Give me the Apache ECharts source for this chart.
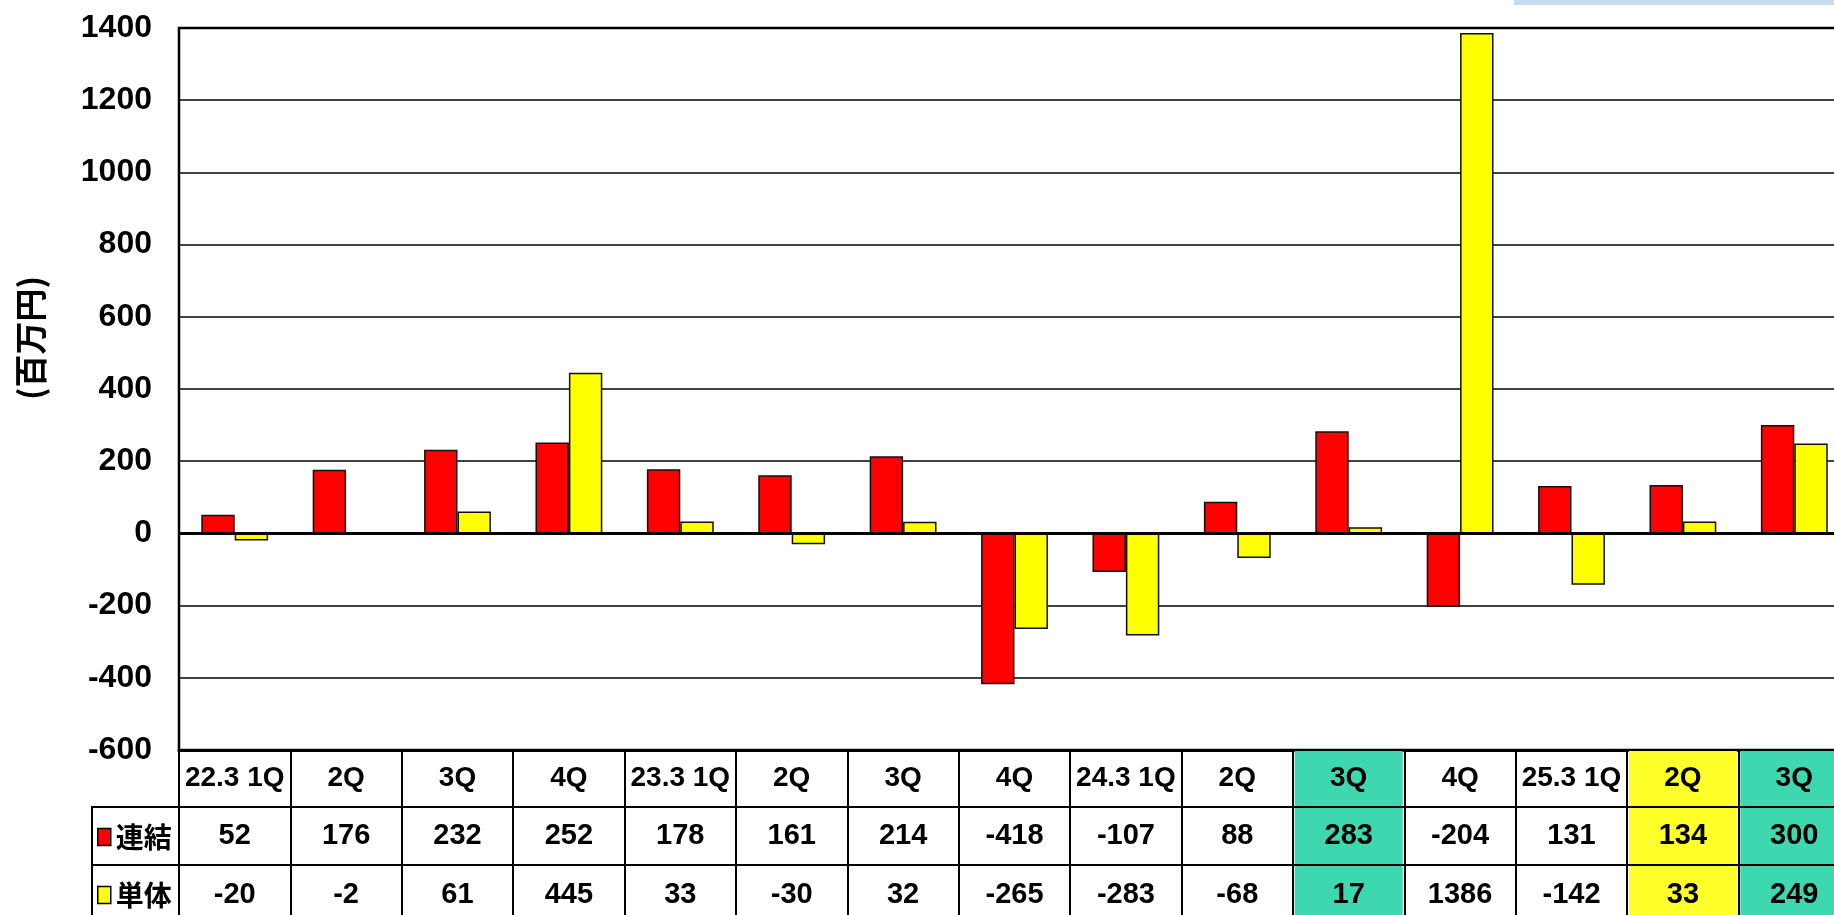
<!DOCTYPE html>
<html>
<head>
<meta charset="utf-8">
<script src="https://cdn.jsdelivr.net/npm/echarts@6/dist/echarts.min.js"></script>
<style>
  html, body { margin: 0; padding: 0; overflow: hidden; background: #fff; }
  #main { width: 1900px; height: 915px; }
</style>
</head>
<body>
<div id="main"></div>
<script>
  // 四半期ごとの値（百万円）
  const categories = ['22.3 1Q', '2Q', '3Q', '4Q', '23.3 1Q', '2Q', '3Q', '4Q', '24.3 1Q', '2Q', '3Q', '4Q', '25.3 1Q', '2Q', '3Q'];
  const consolidated = [52, 176, 232, 252, 178, 161, 214, -418, -107, 88, 283, -204, 131, 134, 300];
  const standalone = [-20, -2, 61, 445, 33, -30, 32, -265, -283, -68, 17, 1386, -142, 33, 249];
  const seriesNames = ['連結', '単体'];
  const yMin = -600;
  const yMax = 1400;
  const yStep = 200;
  const greenCols = [10, 14];
  const yellowCols = [13];

  const latinFont = "'Liberation Sans', Arial, sans-serif";
  const cjkFont = "'Noto Sans CJK JP', sans-serif";

  function cellText(text, idx) {
    let key = 'n';
    if (greenCols.indexOf(idx) > -1) key = 'g';
    else if (yellowCols.indexOf(idx) > -1) key = 'y';
    return '{' + key + '|' + text + '}';
  }

  function cellRich(size, h) {
    const base = {
      width: 108, height: h, lineHeight: h, align: 'center',
      fontSize: size, fontWeight: 'bold', fontFamily: latinFont, color: '#000'
    };
    return {
      n: base,
      g: Object.assign({}, base, { backgroundColor: '#3ed8b0' }),
      y: Object.assign({}, base, { backgroundColor: '#ffff2a' })
    };
  }

  function tableAxis(offset, tickLen, lineW, fontSize, formatter) {
    return {
      type: 'category',
      data: categories,
      position: 'bottom',
      offset: offset,
      boundaryGap: true,
      axisLine: { show: true, onZero: false, lineStyle: { color: '#000', width: lineW } },
      axisTick: { show: true, interval: 0, length: tickLen, lineStyle: { color: '#000', width: 2 } },
      splitLine: { show: false },
      axisLabel: {
        interval: 0,
        margin: 1,
        formatter: formatter,
        rich: cellRich(fontSize, tickLen - 2)
      }
    };
  }

  const chart = echarts.init(document.getElementById('main'));

  const option = {
    animation: false,
    backgroundColor: '#fff',
    grid: {
      left: 179, top: 28, right: 50, bottom: 165,
      outerBoundsMode: 'none',
      show: true, borderColor: '#000', borderWidth: 2.5, backgroundColor: 'transparent'
    },
    legend: {
      data: seriesNames,
      orient: 'vertical',
      left: 97,
      top: 822,
      padding: 0,
      itemWidth: 13,
      itemHeight: 17,
      itemGap: 28,
      icon: 'rect',
      selectedMode: false,
      itemStyle: { borderColor: '#000', borderWidth: 1.5 },
      textStyle: { fontSize: 28, fontWeight: 'bold', fontFamily: cjkFont, color: '#000', lineHeight: 30 }
    },
    xAxis: [
      tableAxis(0, 57, 3, 28, function (v, i) { return cellText(v, i); }),
      tableAxis(57, 58, 2, 29, function (v, i) { return cellText(String(consolidated[i]), i); }),
      tableAxis(115, 60, 2, 29, function (v, i) { return cellText(String(standalone[i]), i); })
    ],
    yAxis: {
      type: 'value',
      min: yMin,
      max: yMax,
      interval: yStep,
      axisLine: { show: true, lineStyle: { color: '#000', width: 2 } },
      axisTick: { show: false },
      splitLine: { lineStyle: { color: '#000', width: 1.5 } },
      axisLabel: {
        margin: 27, fontSize: 32, fontWeight: 'bold', fontFamily: latinFont, color: '#000',
        formatter: function (v) { return String(v); }
      }
    },
    series: [
      {
        name: seriesNames[0],
        type: 'bar',
        data: consolidated,
        barGap: '0%',
        barCategoryGap: '40%',
        itemStyle: { color: '#ff0000', borderColor: '#111', borderWidth: 1.5 },
        markLine: {
          symbol: 'none',
          silent: true,
          label: { show: false },
          lineStyle: { color: '#000', width: 3, type: 'solid' },
          data: [{ yAxis: 0 }]
        }
      },
      {
        name: seriesNames[1],
        type: 'bar',
        data: standalone,
        itemStyle: { color: '#ffff00', borderColor: '#111', borderWidth: 1.5 }
      }
    ],
    graphic: [
      {
        type: 'rect',
        shape: { x: 92, y: 807, width: 87, height: 130 },
        style: { fill: 'none', stroke: '#000', lineWidth: 2 }
      },
      {
        type: 'line',
        shape: { x1: 92, y1: 865, x2: 179, y2: 865 },
        style: { stroke: '#000', lineWidth: 2 }
      },
      {
        type: 'text',
        x: 30,
        y: 338,
        rotation: Math.PI / 2,
        style: {
          text: '(百万円)',
          fontSize: 33,
          fontWeight: 'bold',
          fontFamily: cjkFont,
          fill: '#000',
          textAlign: 'center',
          textVerticalAlign: 'middle'
        }
      },
      {
        type: 'rect',
        shape: { x: 1514, y: 0, width: 320, height: 5 },
        style: { fill: '#c6d9f0' }
      }
    ]
  };

  chart.setOption(option);
</script>
</body>
</html>
